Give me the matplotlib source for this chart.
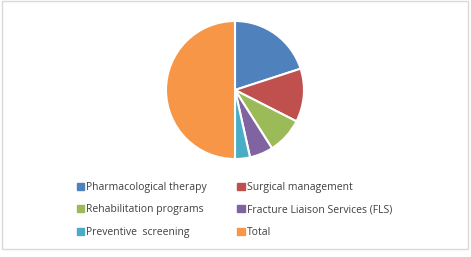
import matplotlib
matplotlib.use("Agg")
import matplotlib.pyplot as plt
from matplotlib.patches import Rectangle, Patch

categories = ["Pharmacological therapy", "Surgical management", "Rehabilitation programs",
              "Fracture Liaison Services (FLS)", "Preventive  screening", "Total"]
values = [40, 25, 17, 11, 7, 100]
colors = ["#4F81BD", "#C0504D", "#9BBB59", "#8064A2", "#4BACC6", "#F79646"]

plt.rcParams['font.family'] = ['Open Sans', 'DejaVu Sans']

fig = plt.figure(figsize=(4.71, 2.57), dpi=100)
fig.patches.append(Rectangle((0.004, 0.03), 0.99, 0.965, transform=fig.transFigure,
                             fill=False, edgecolor="#D9D9D9", linewidth=1))

cx, cy, r = 235, 90, 69
W, H = 471, 257
ax = fig.add_axes([(cx - r) / W, (H - cy - r) / H, 2 * r / W, 2 * r / H])
ax.pie(values, colors=colors, startangle=90, counterclock=False,
       wedgeprops=dict(edgecolor="white", linewidth=1.5))
ax.set_aspect("equal")
ax.set_xlim(-1, 1)
ax.set_ylim(-1, 1)

handles = [Patch(facecolor=c, edgecolor=c) for c in colors]
order = [0, 2, 4, 1, 3, 5]
fig.legend([handles[i] for i in order], [categories[i] for i in order], ncol=2,
           loc="upper left", bbox_to_anchor=(77 / W, 1 - 182 / H), frameon=False,
           fontsize=7.5, handlelength=0.7, handleheight=0.7, handletextpad=0.2,
           columnspacing=2.9, labelspacing=1.1, borderaxespad=0, borderpad=0,
           labelcolor="#404040")

fig.savefig("out.png", dpi=100)
